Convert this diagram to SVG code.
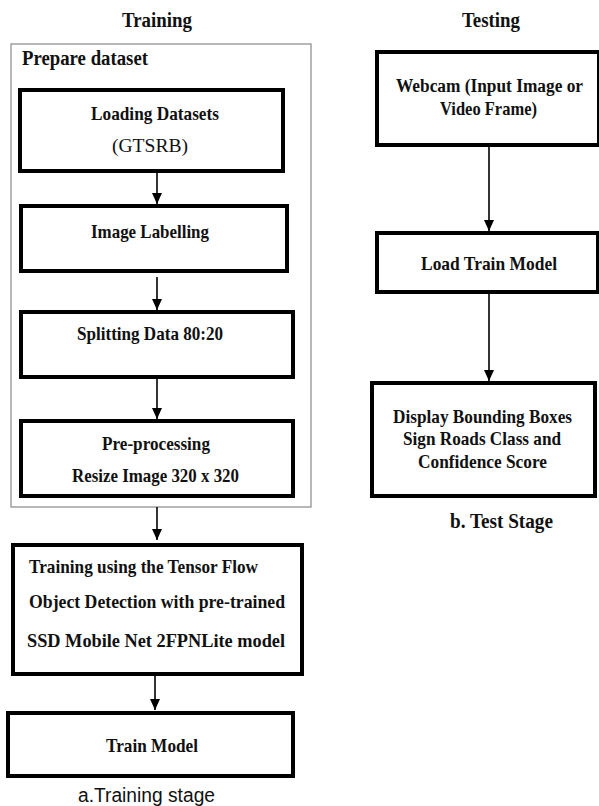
<svg xmlns="http://www.w3.org/2000/svg" width="599" height="806" viewBox="0 0 599 806">
<defs>
<marker id="ah" markerWidth="11" markerHeight="10" refX="11" refY="5" orient="auto" markerUnits="userSpaceOnUse">
<path d="M0,0 L11,5 L0,10 Z" fill="#000"/>
</marker>
<style>
.t{font-family:"Liberation Serif","Times New Roman",serif;font-weight:bold;font-size:19px;fill:#111}
.r{font-family:"Liberation Serif","Times New Roman",serif;font-size:19px;fill:#111}
.h{font-family:"Liberation Serif","Times New Roman",serif;font-weight:bold;font-size:20px;fill:#111}
.s{font-family:"Liberation Sans",Arial,sans-serif;font-size:20px;fill:#111}
.box{fill:#fff;stroke:#000;stroke-width:4}
.outer{fill:none;stroke:#888;stroke-width:1.2}
.c line{stroke:#000;stroke-width:1.6}
</style>
</defs>
<rect width="599" height="806" fill="#fff"/>

<g id="titles">
<text class="h" x="122" y="27" textLength="70" lengthAdjust="spacingAndGlyphs">Training</text>
<text class="h" x="462" y="27" textLength="58" lengthAdjust="spacingAndGlyphs">Testing</text>
</g>

<g id="prepare-dataset">
<rect class="outer" x="11" y="44" width="300" height="463"/>
<text class="h" x="22" y="65" textLength="126" lengthAdjust="spacingAndGlyphs">Prepare dataset</text>
</g>

<g id="loading">
<rect class="box" x="20" y="90" width="263" height="81"/>
<text class="t" x="91" y="120" textLength="128" lengthAdjust="spacingAndGlyphs">Loading Datasets</text>
<text class="r" x="112" y="152" textLength="76" lengthAdjust="spacingAndGlyphs">(GTSRB)</text>
</g>

<g id="labelling">
<rect class="box" x="21" y="206" width="266" height="65"/>
<text class="t" x="91" y="238" textLength="118" lengthAdjust="spacingAndGlyphs">Image Labelling</text>
</g>

<g id="splitting">
<rect class="box" x="21" y="312" width="272" height="65"/>
<text class="t" x="77" y="340" textLength="146" lengthAdjust="spacingAndGlyphs">Splitting Data 80:20</text>
</g>

<g id="preprocessing">
<rect class="box" x="21" y="421" width="272" height="75"/>
<text class="t" x="102" y="450" textLength="108" lengthAdjust="spacingAndGlyphs">Pre-processing</text>
<text class="t" x="72" y="482" textLength="167" lengthAdjust="spacingAndGlyphs">Resize Image 320 x 320</text>
</g>

<g id="training">
<rect class="box" x="13" y="545" width="289" height="129"/>
<text class="t" x="29" y="573" textLength="229" lengthAdjust="spacingAndGlyphs">Training using the Tensor Flow</text>
<text class="t" x="29" y="608" textLength="256" lengthAdjust="spacingAndGlyphs">Object Detection with pre-trained</text>
<text class="t" x="27" y="647" textLength="258" lengthAdjust="spacingAndGlyphs">SSD Mobile Net 2FPNLite model</text>
</g>

<g id="train-model">
<rect class="box" x="8" y="713" width="285" height="63"/>
<text class="t" x="106" y="752" textLength="92" lengthAdjust="spacingAndGlyphs">Train Model</text>
</g>

<g id="caption-a">
<text class="s" x="78" y="802" textLength="137" lengthAdjust="spacingAndGlyphs">a.Training stage</text>
</g>

<g id="webcam">
<rect class="box" x="377" y="52" width="222" height="93"/>
<text class="t" x="396" y="92" textLength="187" lengthAdjust="spacingAndGlyphs" style="font-size:18px">Webcam (Input Image or</text>
<text class="t" x="440" y="115" textLength="97" lengthAdjust="spacingAndGlyphs">Video Frame)</text>
</g>

<g id="load-train-model">
<rect class="box" x="377" y="233" width="221" height="59"/>
<text class="t" x="421" y="270" textLength="136" lengthAdjust="spacingAndGlyphs">Load Train Model</text>
</g>

<g id="display">
<rect class="box" x="372" y="383" width="223" height="113"/>
<text class="t" x="393" y="423" textLength="179" lengthAdjust="spacingAndGlyphs">Display Bounding Boxes</text>
<text class="t" x="403" y="445" textLength="158" lengthAdjust="spacingAndGlyphs">Sign Roads Class and</text>
<text class="t" x="418" y="468" textLength="129" lengthAdjust="spacingAndGlyphs">Confidence Score</text>
</g>

<g id="caption-b">
<text class="h" x="450" y="528" textLength="103" lengthAdjust="spacingAndGlyphs">b. Test Stage</text>
</g>

<g id="connectors" class="c">
<line x1="157" y1="173" x2="157" y2="204" marker-end="url(#ah)"/>
<line x1="157" y1="277" x2="157" y2="310" marker-end="url(#ah)"/>
<line x1="157" y1="379" x2="157" y2="419" marker-end="url(#ah)"/>
<line x1="157" y1="507" x2="157" y2="540" marker-end="url(#ah)"/>
<line x1="155" y1="676" x2="155" y2="710" marker-end="url(#ah)"/>
<line x1="489" y1="147" x2="489" y2="231" marker-end="url(#ah)"/>
<line x1="489" y1="294" x2="489" y2="381" marker-end="url(#ah)"/>
</g>
</svg>
